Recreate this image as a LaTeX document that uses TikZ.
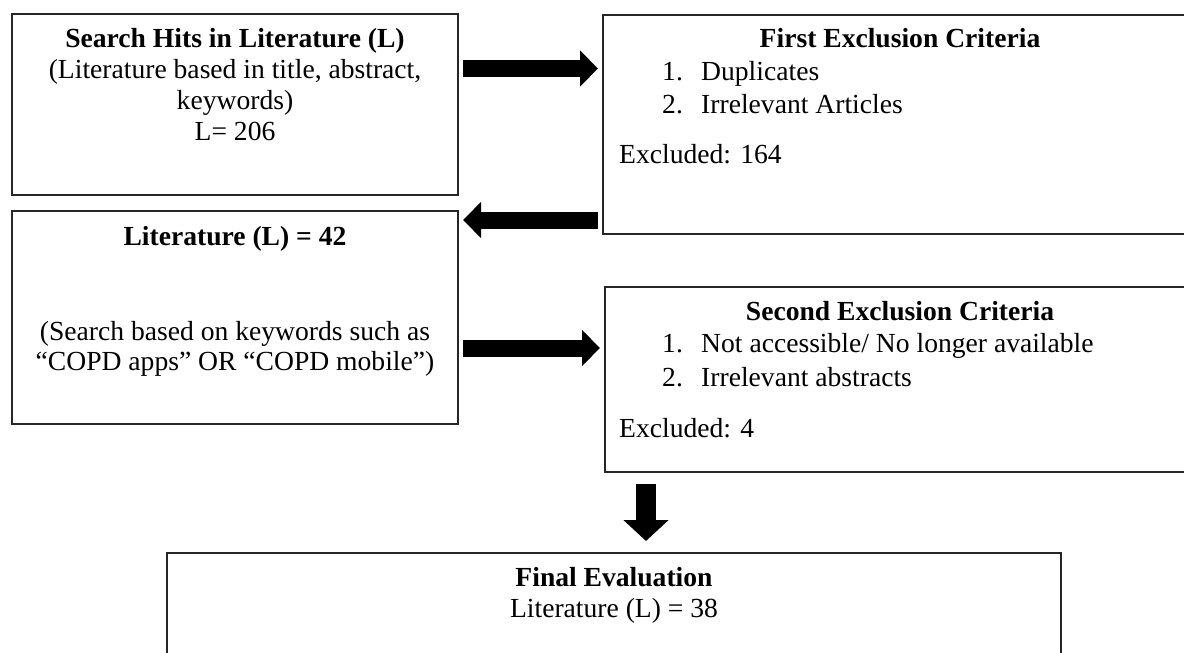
\documentclass[tikz,border=0pt]{standalone}
\usepackage{fontspec}
\setmainfont{Liberation Serif}
\usetikzlibrary{arrows.meta,calc}
\tikzset{>=latex}
\tikzset{
    box/.style={draw=black!85, line width=1.6pt, inner sep=0pt, outer sep=0pt},
    txt/.style={inner sep=0pt, font=\fontsize{27.6}{31}\selectfont},
    hd/.style={inner sep=0pt, font=\fontsize{27.6}{31}\selectfont\bfseries},
    harrow/.style={line width=17pt, -{Triangle[length=18pt,width=35pt]}, shorten <=5pt, shorten >=5pt},
    varrow/.style={line width=20pt, -{Triangle[length=21pt,width=44pt]}, shorten <=12pt, shorten >=12pt}
}

\begin{document}
\begin{tikzpicture}[x=1pt,y=-1pt]
    \path[use as bounding box] (0,0) rectangle (1184,653);
    \clip (0,0) rectangle (1184,653);
    \node[box, minimum width=446pt, minimum height=181pt] (hits) at (235,104.5) {};
    \node[box, minimum width=592pt, minimum height=219pt] (crit1) at (899,124.5) {};
    \node[box, minimum width=446pt, minimum height=213pt] (lit) at (235,317.5) {};
    \node[box, minimum width=590pt, minimum height=185pt] (crit2) at (900,379.5) {};
    \node[box, minimum width=894pt, minimum height=117pt] (final) at (614,611.5) {};

    \node[hd, anchor=base] (hitsT) at (235,47) {Search Hits in Literature (L)};
    \node[txt, anchor=base] (hitsA) at (235,78) {(Literature based in title, abstract,};
    \node[txt, anchor=base] (hitsB) at (235,109) {keywords)};
    \node[txt, anchor=base] (hitsC) at (235,140) {L= 206};

    \node[hd, anchor=base] (crit1T) at (900,47) {First Exclusion Criteria};
    \node[txt, anchor=base west] (crit1N1) at (662,80) {1.};
    \node[txt, anchor=base west] (crit1A) at (701,80) {Duplicates};
    \node[txt, anchor=base west] (crit1N2) at (662,113) {2.};
    \node[txt, anchor=base west] (crit1B) at (701,113) {Irrelevant Articles};
    \node[txt, anchor=base west] (crit1X) at (619,163) {Excluded: 164};

    \node[hd, anchor=base] (litT) at (235,245) {Literature (L) = 42};
    \node[txt, anchor=base] (litA) at (235,340) {(Search based on keywords such as};
    \node[txt, anchor=base] (litB) at (235,370) {“COPD apps” OR “COPD mobile”)};

    \node[hd, anchor=base] (crit2T) at (900,320) {Second Exclusion Criteria};
    \node[txt, anchor=base west] (crit2N1) at (662,352) {1.};
    \node[txt, anchor=base west] (crit2A) at (701,352) {Not accessible/ No longer available};
    \node[txt, anchor=base west] (crit2N2) at (662,386) {2.};
    \node[txt, anchor=base west] (crit2B) at (701,386) {Irrelevant abstracts};
    \node[txt, anchor=base west] (crit2X) at (619,437) {Excluded: 4};

    \node[hd, anchor=base] (finalT) at (614,586) {Final Evaluation};
    \node[txt, anchor=base] (finalA) at (614,617) {Literature (L) = 38};

    \coordinate (r1) at (0,68.5);
    \coordinate (r2) at (0,220);
    \coordinate (r3) at (0,348);
    \coordinate (r4) at (646,0);
    \draw[harrow] (hits.east |- r1) -- (crit1.west |- r1);
    \draw[harrow] (crit1.west |- r2) -- (lit.east |- r2);
    \draw[harrow] (lit.east |- r3) -- (crit2.west |- r3);
    \draw[varrow] (crit2.south -| r4) -- (final.north -| r4);
\end{tikzpicture}
\end{document}
